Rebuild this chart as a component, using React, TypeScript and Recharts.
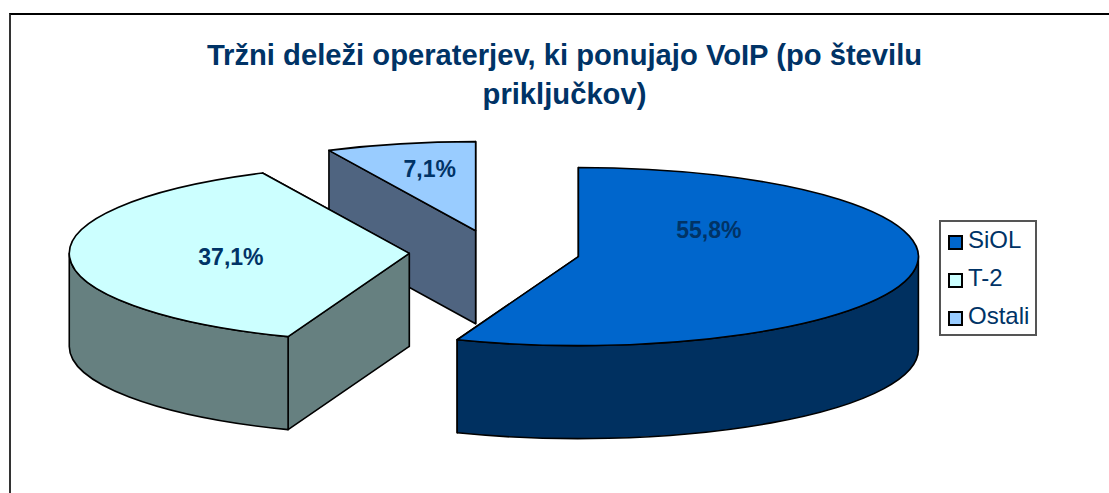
import React from "react";
import { PieChart, Pie, Cell, Legend } from "recharts";

const WIDTH = 1109;
const HEIGHT = 493;

// Listed in drawing order (back to front); the legend shows them reversed.
const names = ["Ostali", "T-2", "SiOL"];
const shares = [7.1, 37.1, 55.8];
const topColors = ["#99CCFF", "#CCFFFF", "#0066CC"];
const wallColors = ["#4F6480", "#668080", "#003060"];
const labelTexts = ["7,1%", "37,1%", "55,8%"];
const titleLines = ["Tržni deleži operaterjev, ki ponujajo VoIP (po številu", "priključkov)"];
const legendOrder = ["SiOL", "T-2", "Ostali"];

const data = names.map((name, i) => ({ name, value: shares[i] }));

const RADIUS = 340;
const TILT = 0.262;
const DEPTH = 93;
const EXPLODE = 85.3;
const INK = "#000000";
const NAVY = "#003366";
const labelFactor = [0.61, 0.525, 0.39];
const labelLift = [-9, 2, -33];

const RAD = Math.PI / 180;

function Slice3D(props: any) {
  const { cx, cy, outerRadius, startAngle, endAngle, index } = props;
  const lo = Math.min(startAngle, endAngle);
  const hi = Math.max(startAngle, endAngle);
  const mid = (lo + hi) / 2;
  const rx = outerRadius;
  const ry = outerRadius * TILT;
  const ox = cx + EXPLODE * Math.cos(mid * RAD);
  const oy = cy - EXPLODE * TILT * Math.sin(mid * RAD);
  const pt = (deg: number, dy = 0) => [ox + rx * Math.cos(deg * RAD), oy - ry * Math.sin(deg * RAD) + dy];
  const xy = (p: number[]) => `${p[0].toFixed(2)} ${p[1].toFixed(2)}`;
  const arc = (from: number, to: number, dy: number, sweep: number) => {
    const large = Math.abs(to - from) > 180 ? 1 : 0;
    return `A ${rx} ${ry} 0 ${large} ${sweep} ${xy(pt(to, dy))}`;
  };
  const apex = [ox, oy];
  const apexLow = [ox, oy + DEPTH];
  const face = (deg: number) => `M ${xy(apex)} L ${xy(pt(deg))} L ${xy(pt(deg, DEPTH))} L ${xy(apexLow)} Z`;

  // The rim is only visible on the front half of the ellipse (180..360 in math degrees).
  const norm = (d: number) => ((d % 360) + 360) % 360;
  const a = norm(lo);
  const b = a + (hi - lo);
  const ranges: number[][] = [];
  for (const [s, e] of [[180, 360], [540, 720]]) {
    const f = Math.max(a, s);
    const t = Math.min(b, e);
    if (t > f) ranges.push([f, t]);
  }
  const top = `M ${xy(apex)} L ${xy(pt(lo))} ${arc(lo, hi, 0, 0)} Z`;
  const wall = wallColors[index];
  return (
    <g stroke={INK} strokeWidth={1.6} strokeLinejoin="round">
      <path d={face(lo)} fill={wall} />
      <path d={face(hi)} fill={wall} />
      {ranges.map(([f, t]) => (
        <path
          key={f}
          d={`M ${xy(pt(f))} ${arc(f, t, 0, 0)} L ${xy(pt(t, DEPTH))} ${arc(t, f, DEPTH, 1)} Z`}
          fill={wall}
        />
      ))}
      <path d={top} fill={topColors[index]} />
    </g>
  );
}

function SliceLabel(props: any) {
  const { cx, cy, outerRadius, midAngle, index } = props;
  const ox = cx + EXPLODE * Math.cos(midAngle * RAD);
  const oy = cy - EXPLODE * TILT * Math.sin(midAngle * RAD);
  const f = labelFactor[index] * outerRadius;
  return (
    <text
      x={ox + f * Math.cos(midAngle * RAD)}
      y={oy - f * TILT * Math.sin(midAngle * RAD) + labelLift[index]}
      textAnchor="middle"
      dominantBaseline="central"
      fontFamily="'Liberation Sans', Arial, sans-serif"
      fontWeight="bold"
      fontSize={23}
      fill={NAVY}
    >
      {labelTexts[index]}
    </text>
  );
}

function LegendBox(props: any) {
  const payload = props.payload ?? [];
  const items = legendOrder.map((n) => payload.find((p: any) => p.value === n)).filter(Boolean);
  return (
    <div
      style={{
        boxSizing: "border-box",
        width: 98,
        height: 116,
        border: "2px solid #555555",
        background: "#fff",
        position: "relative",
      }}
    >
      {items.map((it: any, i: number) => (
        <div
          key={it.value}
          style={{ position: "absolute", left: 0, top: 1 + i * 38, height: 38, display: "flex", alignItems: "center" }}
        >
          <span
            style={{
              boxSizing: "border-box",
              display: "inline-block",
              width: 15,
              height: 15,
              marginLeft: 7,
              marginRight: 5,
              border: `2px solid ${INK}`,
              background: it.color,
            }}
          />
          <span
            style={{
              font: "24px 'Liberation Sans', Arial, sans-serif",
              color: NAVY,
              position: "relative",
              top: -2,
            }}
          >
            {it.value}
          </span>
        </div>
      ))}
    </div>
  );
}

export default function App() {
  return (
    <div style={{ position: "absolute", left: 0, top: 0, width: WIDTH, height: HEIGHT, overflow: "hidden", background: "#fff" }}>
      <div
        style={{
          position: "absolute",
          left: 9,
          top: 13,
          width: 1100,
          height: 500,
          boxSizing: "border-box",
          borderTop: "2px solid #000000",
          borderLeft: "2px solid #333333",
        }}
      />
      <div
        style={{
          position: "absolute",
          left: 0,
          width: 1129,
          top: 36,
          textAlign: "center",
          font: "bold 29.2px/39px 'Liberation Sans', Arial, sans-serif",
          color: NAVY,
        }}
      >
        {titleLines.map((l) => (
          <div key={l}>{l}</div>
        ))}
      </div>
      <div style={{ position: "absolute", left: 0, top: 0 }}>
        <PieChart width={WIDTH} height={HEIGHT} margin={{ top: 0, right: 0, bottom: 0, left: 0 }}>
          <Pie
            data={data}
            dataKey="value"
            nameKey="name"
            cx={494.5}
            cy={252.5}
            outerRadius={RADIUS}
            innerRadius={0}
            startAngle={90}
            endAngle={450}
            isAnimationActive={false}
            shape={Slice3D}
            inactiveShape={Slice3D}
            activeShape={Slice3D}
            label={SliceLabel}
            labelLine={false}
            legendType="square"
          >
            {data.map((d, i) => (
              <Cell key={d.name} fill={topColors[i]} />
            ))}
          </Pie>
          <Legend
            layout="vertical"
            align="right"
            verticalAlign="top"
            content={LegendBox}
            wrapperStyle={{ left: 939, top: 220, width: 98, right: "auto" }}
          />
        </PieChart>
      </div>
    </div>
  );
}
